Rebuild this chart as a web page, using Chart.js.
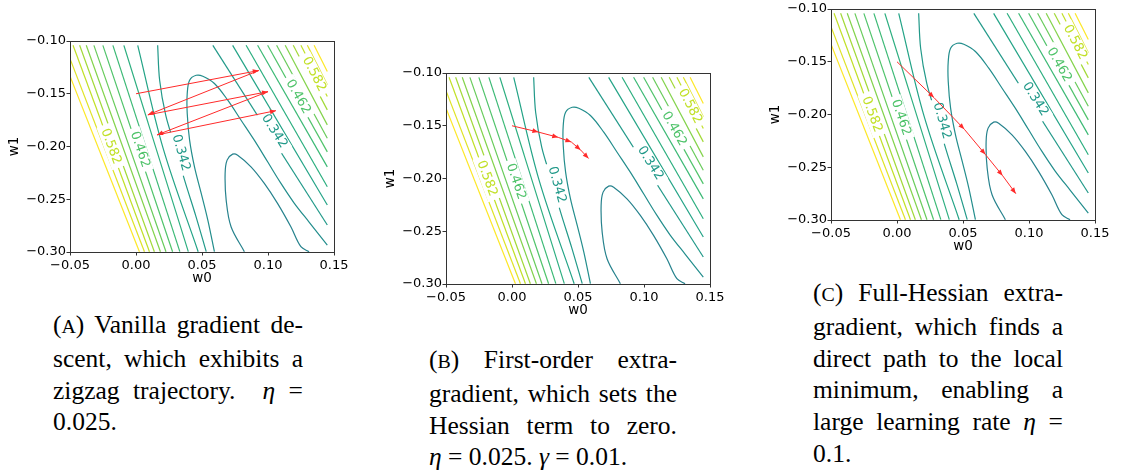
<!DOCTYPE html>
<html>
<head>
<meta charset="utf-8">
<script src="https://cdn.jsdelivr.net/npm/chart.js@4.4.1/dist/chart.umd.min.js"></script>
<style>
  body { margin: 0; background: #fff; width: 1121px; height: 474px; position: relative; overflow: hidden; }
  canvas { position: absolute; }
  .cap { position: absolute; font-family: "Liberation Serif", "Times New Roman", serif; font-size: 25.5px; line-height: 31.8px; color: #000; }
  .cap div { text-align: justify; text-align-last: justify; white-space: nowrap; }
  .cap div.last { text-align-last: left; }
  .sc { font-size: 0.78em; }
</style>
</head>
<body>
<canvas id="panelA" width="351" height="256" style="left:0px;top:31px"></canvas>
<canvas id="panelB" width="351" height="256" style="left:376px;top:63px"></canvas>
<canvas id="panelC" width="351" height="256" style="left:761px;top:-1px"></canvas>

<div class="cap" style="left:53px;top:309px;width:250px">
  <div>(<span class="sc">A</span>) Vanilla gradient de-</div>
  <div>scent, which exhibits a</div>
  <div>zigzag trajectory. &nbsp;<i>η</i> =</div>
  <div class="last">0.025.</div>
</div>
<div class="cap" style="left:429px;top:344px;width:248px">
  <div>(<span class="sc">B</span>) First-order extra-</div>
  <div>gradient, which sets the</div>
  <div>Hessian term to zero.</div>
  <div class="last"><i>η</i> = 0.025. <i>γ</i> = 0.01.</div>
</div>
<div class="cap" style="left:813px;top:277px;width:250px">
  <div>(<span class="sc">C</span>) Full-Hessian extra-</div>
  <div>gradient, which finds a</div>
  <div>direct path to the local</div>
  <div>minimum, enabling a</div>
  <div>large learning rate <i>η</i> =</div>
  <div class="last">0.1.</div>
</div>

<script>
// ===============================================
// DATA
// ===============================================
const xTicks = [-0.05, 0.00, 0.05, 0.10, 0.15];
const xTickLabels = ['\u22120.05', '0.00', '0.05', '0.10', '0.15'];
const yTicks = [-0.30, -0.25, -0.20, -0.15, -0.10];
const yTickLabels = ['\u22120.30', '\u22120.25', '\u22120.20', '\u22120.15', '\u22120.10'];

// contours on the left of the valley, outermost first
const leftLevels = [0.642, 0.612, 0.582, 0.552, 0.522, 0.492, 0.462, 0.432, 0.402, 0.372, 0.342];
const leftLines = [
    [[-0.0500, -0.1334], [0.0026, -0.2997]],
    [[-0.0500, -0.1167], [0.0064, -0.2997]],
    [[-0.0477, -0.1041], [0.0102, -0.2997]],
    [[-0.0427, -0.1041], [0.0139, -0.2997]],
    [[-0.0377, -0.1041], [0.0185, -0.2997]],
    [[-0.0319, -0.1041], [0.0227, -0.2997]],
    [[-0.0251, -0.1041], [0.0277, -0.2997]],
    [[-0.0175, -0.1041], [0.0332, -0.2997]],
    [[-0.0092, -0.1041], [0.0396, -0.2997]],
    [[0.0013, -0.1041], [0.0205, -0.2016], [0.0471, -0.2997]],
    [[0.0164, -0.1041], [0.0179, -0.1372], [0.0225, -0.1703], [0.0292, -0.1987],
     [0.0368, -0.2319], [0.0451, -0.2650], [0.0532, -0.2997]]
];

// contours on the right of the valley, innermost first
const rightLevels = [0.342, 0.372, 0.402, 0.432, 0.462, 0.492, 0.522, 0.552, 0.582, 0.612, 0.642];
const rightLines = [
    [[0.0582, -0.1041], [0.1449, -0.2744]],
    [[0.0732, -0.1041], [0.1449, -0.2555]],
    [[0.0834, -0.1041], [0.1449, -0.2382]],
    [[0.0921, -0.1041], [0.1449, -0.2193]],
    [[0.0997, -0.1041], [0.1449, -0.2051]],
    [[0.1065, -0.1041], [0.1449, -0.1921]],
    [[0.1130, -0.1041], [0.1449, -0.1795]],
    [[0.1191, -0.1041], [0.1449, -0.1653]],
    [[0.1249, -0.1041], [0.1449, -0.1526]],
    [[0.1298, -0.1041], [0.1449, -0.1416]],
    [[0.1349, -0.1041], [0.1449, -0.1290]]
];

// the two open loops around the minimum
const loopOuterLevel = 0.312;
const loopOuter = [
    [0.0594, -0.2997], [0.0544, -0.2697], [0.0494, -0.2444], [0.0443, -0.2193],
    [0.0406, -0.1940], [0.0388, -0.1687], [0.0388, -0.1498], [0.0406, -0.1372],
    [0.0456, -0.1325], [0.0506, -0.1334], [0.0594, -0.1403], [0.0695, -0.1561],
    [0.0796, -0.1751], [0.0896, -0.1940], [0.0997, -0.2145], [0.1098, -0.2350],
    [0.1198, -0.2536], [0.1311, -0.2716], [0.1449, -0.2934]
];
const loopInnerLevel = 0.282;
const loopInner = [
    [0.0821, -0.2997], [0.0720, -0.2761], [0.0683, -0.2508], [0.0675, -0.2255],
    [0.0690, -0.2129], [0.0732, -0.2072], [0.0770, -0.2082], [0.0871, -0.2193],
    [0.0972, -0.2350], [0.1072, -0.2539], [0.1173, -0.2761], [0.1249, -0.2950],
    [0.1311, -0.2997]
];

// inline contour labels
const labelText = ['0.582', '0.462', '0.342', '0.342', '0.462', '0.582'];
const labelSide = ['L', 'L', 'L', 'R', 'R', 'R'];
const labelW0 = [-0.019, 0.003, 0.034, 0.1047, 0.1228, 0.1349];
const labelW1 = [-0.200, -0.203, -0.206, -0.1855, -0.1530, -0.1315];

// optimiser trajectories
const pathA_w0 = [0.000, 0.093, 0.009, 0.100, 0.016, 0.106];
const pathA_w1 = [-0.150, -0.128, -0.170, -0.148, -0.189, -0.166];
const pathB_w0 = [0.000, 0.020, 0.035, 0.045, 0.052, 0.058];
const pathB_w1 = [-0.150, -0.156, -0.161, -0.1655, -0.173, -0.181];
const pathC_w0 = [0.000, 0.028, 0.051, 0.067, 0.080, 0.090];
const pathC_w1 = [-0.150, -0.184, -0.214, -0.238, -0.258, -0.275];

// ===============================================
// HELPERS
// ===============================================
const VIRIDIS = ['#440154', '#482475', '#414487', '#355f8d', '#2a788e', '#21918c',
                 '#22a884', '#44bf70', '#7ad151', '#bddf26', '#fde725'];
const LEVEL_MAX = 0.642;
const ARROW = '#ff2a2a';
const AXIS = '#333';

function hexRgb(h) {
    return [parseInt(h.slice(1, 3), 16), parseInt(h.slice(3, 5), 16), parseInt(h.slice(5, 7), 16)];
}
function viridis(level) {
    const t = Math.max(0, Math.min(1, level / LEVEL_MAX)) * (VIRIDIS.length - 1);
    const i = Math.min(Math.floor(t), VIRIDIS.length - 2);
    const f = t - i;
    const a = hexRgb(VIRIDIS[i]), b = hexRgb(VIRIDIS[i + 1]);
    const c = a.map((v, k) => Math.round(v + (b[k] - v) * f));
    return `rgb(${c[0]},${c[1]},${c[2]})`;
}

const contours = [];
leftLines.forEach((pts, i) => contours.push({ side: 'L', level: leftLevels[i], pts }));
rightLines.forEach((pts, i) => contours.push({ side: 'R', level: rightLevels[i], pts }));
contours.push({ side: 'O', level: loopOuterLevel, pts: loopOuter });
contours.push({ side: 'I', level: loopInnerLevel, pts: loopInner });

// labels are drawn right after the last contour, so arrows stay on top
const labelPlugin = {
    id: 'contourLabels',
    afterDatasetDraw(chart, args) {
        if (args.index !== 1) return;
        const { ctx, scales: { x, y } } = chart;
        ctx.save();
        ctx.font = '13px "DejaVu Sans"';
        ctx.textAlign = 'center';
        ctx.textBaseline = 'middle';
        labelText.forEach((txt, i) => {
            const line = contours.find(c => c.side === labelSide[i] && c.level.toFixed(3) === txt);
            const pts = line.pts;
            let k = 0;
            for (let j = 0; j < pts.length - 1; j++) {
                if (pts[j][1] >= labelW1[i] && pts[j + 1][1] <= labelW1[i]) { k = j; break; }
            }
            const ang = Math.atan2(y.getPixelForValue(pts[k + 1][1]) - y.getPixelForValue(pts[k][1]),
                                   x.getPixelForValue(pts[k + 1][0]) - x.getPixelForValue(pts[k][0]));
            const px = x.getPixelForValue(labelW0[i]);
            const py = y.getPixelForValue(labelW1[i]);
            const w = ctx.measureText(txt).width;
            ctx.save();
            ctx.translate(px, py);
            ctx.rotate(ang);
            ctx.fillStyle = '#fff';
            ctx.fillRect(-w / 2 - 4, -7, w + 8, 14);
            ctx.fillStyle = viridis(line.level);
            ctx.fillText(txt, 0, 0);
            ctx.restore();
        });
        ctx.restore();
    }
};

const arrowHeadPlugin = {
    id: 'arrowHeads',
    afterDatasetsDraw(chart) {
        const { ctx, scales: { x, y } } = chart;
        const pts = chart.data.datasets[0].data;
        ctx.save();
        ctx.fillStyle = ARROW;
        for (let i = 1; i < pts.length; i++) {
            const x0 = x.getPixelForValue(pts[i - 1].x), y0 = y.getPixelForValue(pts[i - 1].y);
            const x1 = x.getPixelForValue(pts[i].x), y1 = y.getPixelForValue(pts[i].y);
            const a = Math.atan2(y1 - y0, x1 - x0);
            ctx.save();
            ctx.translate(x1, y1);
            ctx.rotate(a);
            ctx.beginPath();
            ctx.moveTo(0, 0);
            ctx.lineTo(-6, -2.4);
            ctx.lineTo(-6, 2.4);
            ctx.closePath();
            ctx.fill();
            ctx.restore();
        }
        ctx.restore();
    }
};

const framePlugin = {
    id: 'frame',
    afterDraw(chart) {
        const { ctx, chartArea: a } = chart;
        ctx.save();
        ctx.strokeStyle = AXIS;
        ctx.lineWidth = 1;
        ctx.strokeRect(Math.round(a.left) + 0.5, Math.round(a.top) + 0.5,
                       Math.round(a.right - a.left), Math.round(a.bottom - a.top));
        ctx.restore();
    }
};

Chart.defaults.font.family = '"DejaVu Sans", sans-serif';
Chart.defaults.font.size = 13;
Chart.defaults.color = '#000';

function createPanel(id, pathW0, pathW1) {
    const datasets = [{
        data: pathW0.map((v, i) => ({ x: v, y: pathW1[i] })),
        borderColor: ARROW,
        borderWidth: 1,
        pointRadius: 0,
        showLine: true,
        tension: 0
    }];
    contours.forEach(c => datasets.push({
        data: c.pts.map(p => ({ x: p[0], y: p[1] })),
        borderColor: viridis(c.level),
        borderWidth: 1.2,
        pointRadius: 0,
        showLine: true,
        tension: c.pts.length > 2 ? 0.35 : 0
    }));

    const gridOpts = { display: true, drawOnChartArea: false, drawTicks: true, tickLength: 3.5, color: AXIS, lineWidth: 1 };

    return new Chart(document.getElementById(id), {
        type: 'scatter',
        data: { datasets },
        options: {
            responsive: false,
            animation: false,
            layout: { padding: { top: 10, right: 16, bottom: 0, left: 0 } },
            plugins: { legend: { display: false }, tooltip: { enabled: false } },
            scales: {
                x: {
                    type: 'linear', min: -0.05, max: 0.15,
                    afterBuildTicks: s => { s.ticks = xTicks.map(v => ({ value: v })); },
                    afterFit: s => { s.height = 35; },
                    ticks: { callback: (v, i) => xTickLabels[i], padding: 2.5, maxRotation: 0, autoSkip: false },
                    grid: gridOpts,
                    border: { display: true, color: AXIS, width: 1 },
                    title: { display: true, text: 'w0', padding: 0, font: { size: 13.5 } }
                },
                y: {
                    type: 'linear', min: -0.30, max: -0.10,
                    afterBuildTicks: s => { s.ticks = yTicks.map(v => ({ value: v })); },
                    afterFit: s => { s.width = 70; },
                    ticks: { callback: (v, i) => yTickLabels[i], padding: 0.5, autoSkip: false },
                    grid: gridOpts,
                    border: { display: true, color: AXIS, width: 1 },
                    title: { display: true, text: 'w1', padding: { top: 6, bottom: 0 }, font: { size: 13.5 } }
                }
            }
        },
        plugins: [labelPlugin, arrowHeadPlugin, framePlugin]
    });
}

createPanel('panelA', pathA_w0, pathA_w1);
createPanel('panelB', pathB_w0, pathB_w1);
createPanel('panelC', pathC_w0, pathC_w1);
</script>
</body>
</html>
